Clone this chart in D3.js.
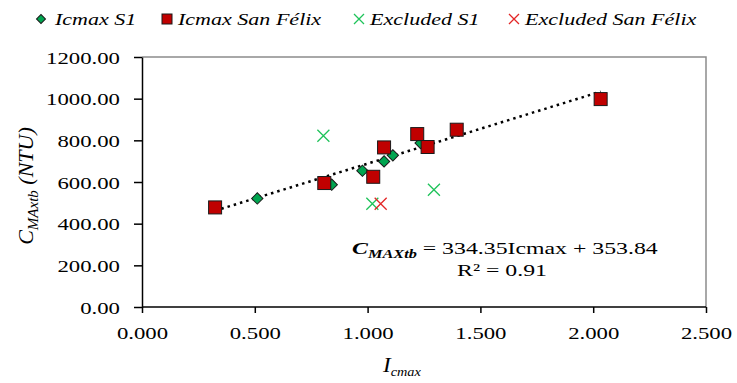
<!DOCTYPE html>
<html>
<head>
<meta charset="utf-8">
<script src="https://cdn.jsdelivr.net/npm/d3@7"></script>
<style>
  body { margin: 0; background: #fff; }
  svg text { font-family: "Times New Roman", "Liberation Serif", Times, serif !important; }
</style>
</head>
<body>
<script>
// Icmax vs C_MAXtb, two sites plus excluded points
let s1X = [0.511, 0.841, 0.977, 1.073, 1.112, 1.235]
let s1Y = [521, 587, 654, 699, 728, 787]

let sfX = [0.324, 0.808, 1.025, 1.073, 1.220, 1.266, 1.395, 2.033]
let sfY = [478, 595, 625, 766, 830, 768, 851, 998]

let exS1X = [0.804, 1.021, 1.294]
let exS1Y = [822, 496, 563]

let exSfX = [1.058]
let exSfY = [496]

let xTicks = [0, 0.5, 1, 1.5, 2, 2.5]
let yTicks = [0, 200, 400, 600, 800, 1000, 1200]

let slope = 334.35
let intercept = 353.84

let width = 737
let height = 383

// the source figure uses a wide-set serif face
let fs = 17.5
let stretch = 1.3

let svg = d3.select('body').append('svg')
    .attr('width', width)
    .attr('height', height)

let xScale = d3.scaleLinear().domain([0, 2.5]).range([142, 706])
let yScale = d3.scaleLinear().domain([0, 1200]).range([307, 57])

const red = '#c00000'
const green = '#00a550'

// put a text at (x,y) with horizontal stretch
const place = (sel, x, y, k) => {
    sel.attr('x', 0).attr('y', 0)
        .attr('transform', `translate(${x},${y}) scale(${k || stretch},1)`)
    return sel
}

// plot frame (top / right)
svg.append('path')
    .attr('d', `M${xScale(0)},${yScale(1200)}H${xScale(2.5)}V${yScale(0)}`)
    .attr('fill', 'none')
    .attr('stroke', '#8c8c8c')
    .attr('stroke-width', 1.5)

let xAxis = d3.axisBottom(xScale).tickValues(xTicks).tickFormat(d3.format('.3f')).tickSize(6).tickSizeOuter(0)
let yAxis = d3.axisLeft(yScale).tickValues(yTicks).tickFormat(d3.format('.2f')).tickSize(8).tickSizeOuter(0)

let gx = svg.append('g')
    .attr('transform', 'translate(0,' + yScale(0) + ')')
    .call(xAxis)
gx.selectAll('text').attr('font-size', fs).attr('fill', '#000').attr('dy', 0)
    .each(function() { place(d3.select(this), 0, 32) })
gx.selectAll('path, line').attr('stroke', '#000').attr('stroke-width', 1.5)
gx.select('.domain').attr('d', `M${xScale(0)},0H${xScale(2.5)}`)

let gy = svg.append('g')
    .attr('transform', 'translate(' + xScale(0) + ',0)')
    .call(yAxis)
gy.selectAll('text').attr('font-size', fs).attr('fill', '#000').attr('dy', 0)
    .each(function() { place(d3.select(this), -22, 6) })
gy.selectAll('path, line').attr('stroke', '#000').attr('stroke-width', 1.5)

// trend line over the fitted range
let allX = s1X.concat(sfX)
let tx = d3.extent(allX)
svg.append('line')
    .attr('x1', xScale(tx[0])).attr('y1', yScale(slope * tx[0] + intercept))
    .attr('x2', xScale(tx[1])).attr('y2', yScale(slope * tx[1] + intercept))
    .attr('stroke', '#000')
    .attr('stroke-width', 2.5)
    .attr('stroke-dasharray', '2.5,4')

let diamond = d3.symbol().type(d3.symbolSquare).size(64)

const drawX = (g, cx, cy, color, r) => {
    g.append('path')
        .attr('d', `M${cx - r},${cy - r}L${cx + r},${cy + r}M${cx - r},${cy + r}L${cx + r},${cy - r}`)
        .attr('stroke', color)
        .attr('stroke-width', 1.3)
        .attr('fill', 'none')
}

let marks = svg.append('g')

exS1X.forEach((x, i) => drawX(marks, xScale(x), yScale(exS1Y[i]), '#1fc35a', 6))
exSfX.forEach((x, i) => drawX(marks, xScale(x), yScale(exSfY[i]), '#e32626', 6))

marks.selectAll('.s1')
    .data(s1X)
    .enter()
    .append('path')
    .attr('class', 's1')
    .attr('d', diamond)
    .attr('transform', (d, i) => `translate(${xScale(d)},${yScale(s1Y[i])}) rotate(45)`)
    .attr('fill', green)
    .attr('stroke', '#1a1a1a')
    .attr('stroke-width', 1)

marks.selectAll('.sf')
    .data(sfX)
    .enter()
    .append('rect')
    .attr('class', 'sf')
    .attr('x', d => xScale(d) - 6.5)
    .attr('y', (d, i) => yScale(sfY[i]) - 6.5)
    .attr('width', 13)
    .attr('height', 13)
    .attr('fill', red)
    .attr('stroke', '#1a1a1a')
    .attr('stroke-width', 1)

// equation
let eq = svg.append('text').attr('font-size', fs)
place(eq, 352, 254, 1.36)
eq.append('tspan').attr('font-weight', 'bold').attr('font-style', 'italic').text('C')
eq.append('tspan').attr('font-weight', 'bold').attr('font-style', 'italic')
    .attr('font-size', 12).attr('dy', 4).text('MAXtb')
eq.append('tspan').attr('dy', -4).text(' = ' + slope + 'Icmax + ' + intercept)

let r2 = svg.append('text')
    .attr('font-size', fs)
    .attr('text-anchor', 'middle')
    .text('R² = 0.91')
place(r2, 502, 276, 1.36)

// axis titles
let xt = svg.append('text')
    .attr('font-size', 21)
    .attr('font-style', 'italic')
place(xt, 383, 372, 1.1)
xt.append('tspan').text('I')
xt.append('tspan').attr('font-size', 13).attr('dy', 4).text('cmax')

let yt = svg.append('text')
    .attr('transform', 'translate(33,' + 186 + ') rotate(-90)')
    .attr('text-anchor', 'middle')
    .attr('font-size', 22)
    .attr('font-style', 'italic')
yt.append('tspan').text('C')
yt.append('tspan').attr('font-size', 15).attr('dy', 5).text('MAxtb')
yt.append('tspan').attr('dy', -5).text(' (NTU)')

// legend
let legend = svg.append('g')
let ly = 19
let lgItems = [
    { label: 'Icmax S1', sx: 41, tx: 55, kind: 'diamond' },
    { label: 'Icmax San Félix', sx: 167, tx: 178, kind: 'square' },
    { label: 'Excluded S1', sx: 359, tx: 370, kind: 'xg' },
    { label: 'Excluded San Félix', sx: 514, tx: 525, kind: 'xr' }
]
lgItems.forEach(item => {
    if (item.kind === 'diamond') {
        legend.append('path')
            .attr('d', d3.symbol().type(d3.symbolSquare).size(40))
            .attr('transform', `translate(${item.sx},${ly}) rotate(45)`)
            .attr('fill', green).attr('stroke', '#1a1a1a')
    } else if (item.kind === 'square') {
        legend.append('rect')
            .attr('x', item.sx - 5).attr('y', ly - 5)
            .attr('width', 10).attr('height', 10)
            .attr('fill', red).attr('stroke', '#1a1a1a')
    } else {
        let c = item.kind === 'xg' ? '#1fc35a' : '#e32626'
        drawX(legend, item.sx, ly, c, 5)
    }
    let t = legend.append('text')
        .attr('font-size', fs)
        .attr('font-style', 'italic')
        .text(item.label)
    place(t, item.tx, ly + 6, 1.26)
})
</script>
</body>
</html>
